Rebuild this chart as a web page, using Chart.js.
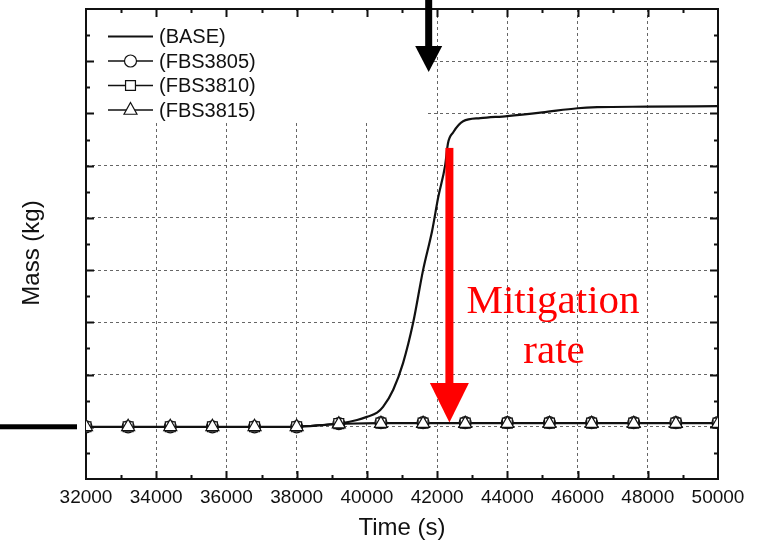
<!DOCTYPE html>
<html>
<head>
<meta charset="utf-8">
<script src="https://cdn.jsdelivr.net/npm/chart.js@4/dist/chart.umd.min.js"></script>
<style>
  html, body { margin: 0; padding: 0; background: #fff; }
  canvas { display: block; }
</style>
</head>
<body>
<canvas id="c" width="759" height="547"></canvas>
<script>
// ---- data ----
const seriesNames = ['(BASE)', '(FBS3805)', '(FBS3810)', '(FBS3815)'];
const xTickLabels = ['32000', '34000', '36000', '38000', '40000', '42000', '44000', '46000', '48000', '50000'];
const xTitle = 'Time (s)';
const yTitle = 'Mass (kg)';

const baseTime = [32000, 34000, 36000, 38000, 38700, 39300, 39720, 40000, 40290, 40460, 40750, 41030, 41320, 41600, 41860, 42030, 42230, 42310, 42460, 42740, 43230, 44000, 45000, 46000, 46560, 48000, 50000];
const baseMass = [1.0, 1.0, 1.0, 1.0, 1.03, 1.07, 1.13, 1.19, 1.27, 1.38, 1.71, 2.22, 3.0, 4.0, 4.76, 5.39, 6.01, 6.43, 6.64, 6.85, 6.91, 6.95, 7.02, 7.10, 7.12, 7.13, 7.14];

const markerTime = [32000, 33200, 34400, 35600, 36800, 38000, 39200, 40400, 41600, 42800, 44000, 45200, 46400, 47600, 48800, 50000];
const fbs3805Mass = [1.0, 1.0, 1.0, 1.0, 1.0, 1.0, 1.06, 1.08, 1.08, 1.08, 1.08, 1.08, 1.08, 1.08, 1.08, 1.08];
const fbs3810Mass = [1.0, 1.0, 1.0, 1.0, 1.0, 1.0, 1.06, 1.07, 1.07, 1.07, 1.07, 1.07, 1.07, 1.07, 1.07, 1.07];
const fbs3815Mass = [1.0, 1.0, 1.0, 1.0, 1.0, 1.0, 1.05, 1.06, 1.06, 1.06, 1.06, 1.06, 1.06, 1.06, 1.06, 1.06];

const pairs = (xs, ys) => xs.map((v, i) => ({ x: v, y: ys[i] }));

Chart.defaults.font.family = "'Liberation Sans', Arial, sans-serif";
Chart.defaults.color = '#111';

function drawMarker(ctx, style, x, y, r) {
  ctx.beginPath();
  if (style === 'circle') {
    ctx.arc(x, y, r, 0, Math.PI * 2);
  } else if (style === 'rect') {
    const s = r * Math.SQRT1_2;
    ctx.rect(x - s, y - s, 2 * s, 2 * s);
  } else if (style === 'triangle') {
    ctx.moveTo(x, y - r);
    ctx.lineTo(x + r * 0.866, y + r * 0.5 + 0.5);
    ctx.lineTo(x - r * 0.866, y + r * 0.5 + 0.5);
    ctx.closePath();
  }
  ctx.fillStyle = '#fff';
  ctx.fill();
  ctx.lineWidth = 1.2;
  ctx.strokeStyle = '#111';
  ctx.stroke();
}

const decorPlugin = {
  id: 'decor',
  beforeDatasetsDraw(chart) {
    const { ctx, chartArea: a, scales: { x, y } } = chart;
    ctx.save();
    // white legend background (hides the grid there)
    const lx1 = x.getPixelForValue(41690);
    const ly1 = y.getPixelForValue(6.84);
    ctx.fillStyle = '#fff';
    ctx.fillRect(a.left + 2, a.top + 2, lx1 - a.left - 2, ly1 - a.top - 2);

    // frame
    ctx.strokeStyle = '#111';
    ctx.lineWidth = 2;
    ctx.strokeRect(a.left, a.top, a.right - a.left, a.bottom - a.top);

    // inward ticks
    ctx.lineWidth = 2;
    ctx.beginPath();
    for (let v = x.min + 1000; v < x.max; v += 1000) {
      const px = Math.round(x.getPixelForValue(v)) + 0.5;
      const len = (v % 2000 === 0) ? 8 : 4;
      ctx.moveTo(px, a.bottom); ctx.lineTo(px, a.bottom - len);
      ctx.moveTo(px, a.top); ctx.lineTo(px, a.top + len);
    }
    for (let v = y.min + 0.5; v < y.max; v += 0.5) {
      const py = Math.round(y.getPixelForValue(v)) + 0.5;
      const len = (Math.abs(v - Math.round(v)) < 1e-6) ? 8 : 4;
      ctx.moveTo(a.left, py); ctx.lineTo(a.left + len, py);
      ctx.moveTo(a.right, py); ctx.lineTo(a.right - len, py);
    }
    ctx.stroke();

    // y axis title (drawn here to place it like the reference)
    ctx.save();
    ctx.translate(32, (a.top + a.bottom) / 2 + 9);
    ctx.rotate(-Math.PI / 2);
    ctx.font = "24px 'Liberation Sans', Arial, sans-serif";
    ctx.fillStyle = '#111';
    ctx.textAlign = 'center';
    ctx.textBaseline = 'middle';
    ctx.fillText(yTitle, 0, 0);
    ctx.restore();

    ctx.restore();
  },
  afterDatasetsDraw(chart) {
    const { ctx, chartArea: a, scales: { x, y } } = chart;
    ctx.save();

    // legend
    const rows = [36.5, 61, 85.5, 110];
    const styles = [null, 'circle', 'rect', 'triangle'];
    const radii = [0, 6, 7, 7.5];
    const lx0 = 108, lx1 = 153;
    ctx.font = "20px 'Liberation Sans', Arial, sans-serif";
    ctx.textBaseline = 'middle';
    ctx.textAlign = 'left';
    chart.data.datasets.forEach((ds, i) => {
      const ry = rows[i];
      ctx.beginPath();
      ctx.moveTo(lx0, ry); ctx.lineTo(lx1, ry);
      ctx.lineWidth = i === 0 ? 2.2 : 1.3;
      ctx.strokeStyle = '#111';
      ctx.stroke();
      if (styles[i]) drawMarker(ctx, styles[i], (lx0 + lx1) / 2, ry, radii[i]);
      ctx.fillStyle = '#111';
      ctx.fillText(ds.label, 159, ry + 1);
    });

    // thick black line at the left, at the baseline level
    const yb = y.getPixelForValue(1.0);
    ctx.fillStyle = '#000';
    ctx.fillRect(0, yb - 2.5, 77, 5);

    // black arrow at the top
    const bx = x.getPixelForValue(41760);
    ctx.fillRect(bx - 3.5, 0, 7, 47);
    ctx.beginPath();
    ctx.moveTo(bx - 13.5, 46); ctx.lineTo(bx + 13.5, 46); ctx.lineTo(bx, 72);
    ctx.closePath();
    ctx.fill();

    // red mitigation arrow
    const rx = x.getPixelForValue(42350);
    const rTop = y.getPixelForValue(6.34);
    const rHead = y.getPixelForValue(1.84);
    const rTip = y.getPixelForValue(1.08);
    ctx.fillStyle = '#ff0000';
    ctx.fillRect(rx - 4, rTop, 8, rHead - rTop + 2);
    ctx.beginPath();
    ctx.moveTo(rx - 19.5, rHead); ctx.lineTo(rx + 19.5, rHead); ctx.lineTo(rx, rTip);
    ctx.closePath();
    ctx.fill();

    // annotation text
    ctx.font = "41px 'Liberation Serif', 'Times New Roman', serif";
    ctx.textAlign = 'center';
    ctx.textBaseline = 'alphabetic';
    ctx.fillText('Mitigation', 553, 313);
    ctx.fillText('rate', 554, 363);

    ctx.restore();
  }
};

new Chart(document.getElementById('c'), {
  type: 'line',
  data: {
    datasets: [
      {
        label: seriesNames[0], data: pairs(baseTime, baseMass), order: 4,
        borderColor: '#111', borderWidth: 2.2, pointRadius: 0,
        cubicInterpolationMode: 'monotone', fill: false
      },
      {
        label: seriesNames[1], data: pairs(markerTime, fbs3805Mass), order: 3,
        borderColor: '#111', borderWidth: 1.4, pointStyle: 'circle', pointRadius: 6,
        pointBackgroundColor: '#fff', pointBorderColor: '#111', pointBorderWidth: 1.2, fill: false
      },
      {
        label: seriesNames[2], data: pairs(markerTime, fbs3810Mass), order: 2,
        borderColor: '#111', borderWidth: 1.4, pointStyle: 'rect', pointRadius: 7,
        pointBackgroundColor: '#fff', pointBorderColor: '#111', pointBorderWidth: 1.2, fill: false
      },
      {
        label: seriesNames[3], data: pairs(markerTime, fbs3815Mass), order: 1,
        borderColor: '#111', borderWidth: 1.4, pointStyle: 'triangle', pointRadius: 7.5,
        pointBackgroundColor: '#fff', pointBorderColor: '#111', pointBorderWidth: 1.2, fill: false
      }
    ]
  },
  options: {
    responsive: false,
    devicePixelRatio: 1,
    animation: false,
    layout: { padding: { top: 9, right: 41, bottom: 0, left: 0 } },
    plugins: { legend: { display: false }, tooltip: { enabled: false } },
    scales: {
      x: {
        type: 'linear', min: 32000, max: 50000,
        afterFit: (s) => { s.height = 68; },
        afterBuildTicks: (s) => { s.ticks = xTickLabels.map(t => ({ value: Number(t) })); },
        ticks: {
          stepSize: 2000, color: '#111', font: { size: 19 }, padding: 7, maxRotation: 0,
          callback: (v, i) => xTickLabels[i]
        },
        grid: { color: '#666', lineWidth: 1, drawTicks: false },
        border: { display: false, dash: [3, 3] },
        title: { display: true, text: xTitle, color: '#111', font: { size: 24 }, padding: { top: 0, bottom: 4 } }
      },
      y: {
        type: 'linear', min: 0, max: 9,
        afterFit: (s) => { s.width = 86; },
        ticks: { stepSize: 1, display: false },
        grid: { color: '#666', lineWidth: 1, drawTicks: false },
        border: { display: false, dash: [3, 3] },
        title: { display: false }
      }
    }
  },
  plugins: [decorPlugin]
});
</script>
</body>
</html>
